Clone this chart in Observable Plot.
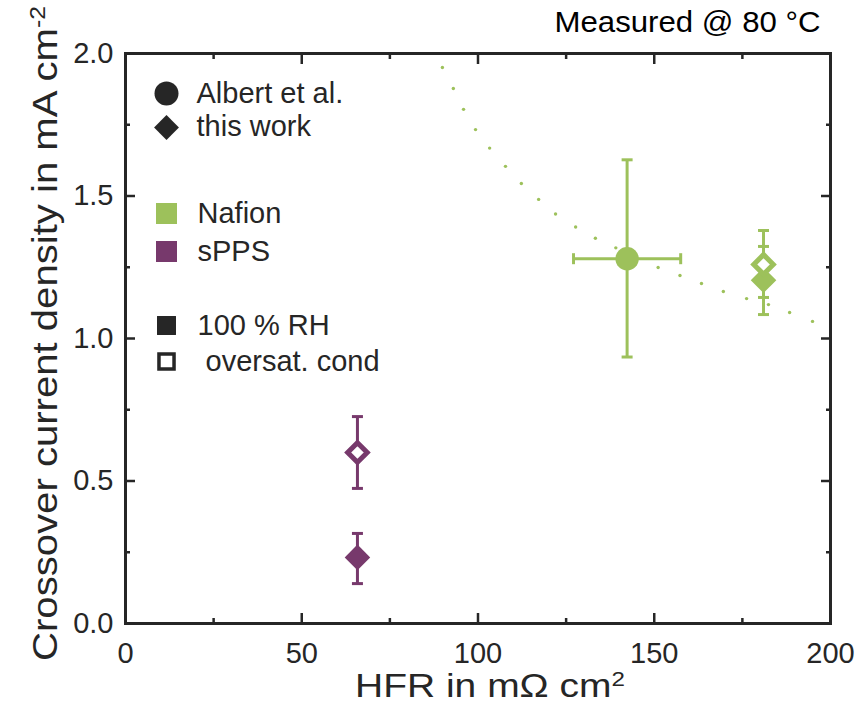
<!DOCTYPE html>
<html>
<head>
<meta charset="utf-8">
<script src="https://cdn.jsdelivr.net/npm/d3@7"></script>
<script src="https://cdn.jsdelivr.net/npm/@observablehq/plot@0.6"></script>
<style>
  html, body { margin: 0; padding: 0; background: #fff; }
  #chart { width: 866px; height: 710px; }
  svg { font-family: "Liberation Sans", Arial, sans-serif; }
</style>
</head>
<body>
<div id="chart"></div>
<script>
// ---- data ----
const membrane  = ["Nafion", "Nafion", "Nafion", "sPPS", "sPPS"];
const source    = ["Albert et al.", "this work", "this work", "this work", "this work"];
const condition = ["100 % RH", "oversat. cond", "100 % RH", "oversat. cond", "100 % RH"];
const hfr       = [142.3, 181, 181, 65.8, 65.8];          // mΩ cm²
const hfrLo     = [127.1, 181, 181, 65.8, 65.8];
const hfrHi     = [157.5, 181, 181, 65.8, 65.8];
const crossover = [1.28, 1.26, 1.204, 0.60, 0.232];        // mA cm⁻²
const crossLo   = [0.935, 1.144, 1.084, 0.474, 0.14];
const crossHi   = [1.627, 1.379, 1.323, 0.726, 0.316];

// dotted guide curve
const guideX = [89.9, 93.0, 95.9, 99.3, 103.3, 107.8, 112.3, 117.2, 122.0, 127.7, 133.3, 139.1, 145.0, 151.1, 157.3, 163.4, 169.6, 176.2, 182.4, 188.4, 194.9];
const guideY = [1.951, 1.877, 1.804, 1.733, 1.668, 1.604, 1.544, 1.488, 1.437, 1.391, 1.352, 1.318, 1.284, 1.249, 1.221, 1.193, 1.165, 1.14, 1.119, 1.091, 1.06];

const xTicks = [0, 50, 100, 150, 200];
const xMinor = [25, 75, 125, 175];
const yTicks = [0, 0.5, 1.0, 1.5, 2.0];
const yMinor = [0.25, 0.75, 1.25, 1.75];

// ---- build tables ----
const points = membrane.map((m, i) => ({
  membrane: m, source: source[i], condition: condition[i],
  hfr: hfr[i], hfrLo: hfrLo[i], hfrHi: hfrHi[i],
  j: crossover[i], jLo: crossLo[i], jHi: crossHi[i]
}));
const guide = guideX.map((x, i) => ({x, y: guideY[i]}));

const colors = {Nafion: "#9dc15b", sPPS: "#77396c"};
const ink = "#262626";
const FS = 29;

const col = d => colors[d.membrane];
const filled = points.filter(d => d.condition === "100 % RH");
const open = points.filter(d => d.condition !== "100 % RH");
const withXerr = points.filter(d => d.hfrHi > d.hfrLo);

// error-bar cap symbols
const CAP = 5.5;
const capH = {draw(ctx) { ctx.moveTo(-CAP, 0); ctx.lineTo(CAP, 0); }};
const capV = {draw(ctx) { ctx.moveTo(0, -CAP); ctx.lineTo(0, CAP); }};

const yCaps = points.flatMap(d => [{...d, cy: d.jLo}, {...d, cy: d.jHi}]);
const xCaps = withXerr.flatMap(d => [{...d, cx: d.hfrLo}, {...d, cx: d.hfrHi}]);

const legendText = (txt, dx, dy) => Plot.text([txt], {
  frameAnchor: "top-left", dx, dy, text: d => d, textAnchor: "start",
  lineAnchor: "middle", fontSize: FS, fill: ink
});

const chart = Plot.plot({
  width: 866,
  height: 710,
  marginLeft: 125,
  marginRight: 36,
  marginTop: 53,
  marginBottom: 87,
  style: {fontFamily: '"Liberation Sans", Arial, sans-serif', background: "#fff"},
  x: {type: "linear", domain: [0, 200]},
  y: {type: "linear", domain: [0, 2]},
  marks: [
    // guide dots
    Plot.dot(guide, {x: "x", y: "y", r: 1.7, fill: colors.Nafion, stroke: "none"}),
    // error bars
    Plot.ruleX(points, {x: "hfr", y1: "jLo", y2: "jHi", stroke: col, strokeWidth: 3}),
    Plot.dot(yCaps, {x: "hfr", y: "cy", symbol: capH, stroke: col, strokeWidth: 3, fill: "none"}),
    Plot.ruleY(withXerr, {y: "j", x1: "hfrLo", x2: "hfrHi", stroke: col, strokeWidth: 3}),
    Plot.dot(xCaps, {x: "cx", y: "j", symbol: capV, stroke: col, strokeWidth: 3, fill: "none"}),
    // filled markers
    Plot.dot(filled.filter(d => d.source === "Albert et al."), {x: "hfr", y: "j", r: 11.7, fill: col, stroke: "none"}),
    Plot.dot(filled.filter(d => d.source === "this work"), {x: "hfr", y: "j", symbol: "diamond2", r: 11.5, fill: col, stroke: "none"}),
    // open markers
    Plot.dot(open, {x: "hfr", y: "j", symbol: "diamond2", r: 8.8, fill: "white", stroke: col, strokeWidth: 5}),

    // frame and axes
    Plot.frame({stroke: ink, strokeWidth: 3}),
    Plot.axisX({ticks: xTicks, tickSize: -10, text: null, stroke: ink, strokeWidth: 2.5, label: null}),
    Plot.axisX({ticks: xMinor, tickSize: -5, text: null, stroke: ink, strokeWidth: 2.5, label: null}),
    Plot.axisX({anchor: "top", ticks: xTicks, tickSize: -10, text: null, stroke: ink, strokeWidth: 2.5, label: null}),
    Plot.axisX({anchor: "top", ticks: xMinor, tickSize: -5, text: null, stroke: ink, strokeWidth: 2.5, label: null}),
    Plot.axisY({ticks: yTicks, tickSize: -10, text: null, stroke: ink, strokeWidth: 2.5, label: null}),
    Plot.axisY({ticks: yMinor, tickSize: -5, text: null, stroke: ink, strokeWidth: 2.5, label: null}),
    Plot.axisY({anchor: "right", ticks: yTicks, tickSize: -10, text: null, stroke: ink, strokeWidth: 2.5, label: null}),
    Plot.axisY({anchor: "right", ticks: yMinor, tickSize: -5, text: null, stroke: ink, strokeWidth: 2.5, label: null}),
    Plot.axisX({ticks: xTicks, tickSize: 0, tickPadding: 19, fontSize: FS, fill: ink, label: null}),
    Plot.axisY({ticks: yTicks, tickSize: 0, tickPadding: 12, fontSize: FS, fill: ink, label: null,
      tickFormat: d3.format(".1f")}),

    // axis titles
    Plot.text(["HFR in mΩ cm"], {frameAnchor: "bottom", dx: 12, dy: 63, text: d => d, textAnchor: "middle",
      fontSize: 33, fill: ink, lineAnchor: "middle", className: "xtitle"}),
    Plot.text(["Crossover current density in mA cm"], {frameAnchor: "left", dx: -80, dy: -5, rotate: -90, text: d => d,
      textAnchor: "middle", fontSize: 35, fill: ink, lineAnchor: "middle", className: "ytitle"}),
    Plot.text(["Measured @ 80 °C"], {frameAnchor: "top-right", dx: -10, dy: -31, text: d => d,
      textAnchor: "end", lineAnchor: "middle", fontSize: 29, fill: "#000", className: "toptext"}),

    // legend
    Plot.dot([0], {frameAnchor: "top-left", dx: 41, dy: 40, r: 12, fill: ink}),
    legendText("Albert et al.", 71, 40),
    Plot.dot([0], {frameAnchor: "top-left", dx: 41, dy: 74, r: 11.2, symbol: "diamond2", fill: ink}),
    legendText("this work", 71, 73),
    Plot.dot([0], {frameAnchor: "top-left", dx: 41, dy: 160, r: 11.85, symbol: "square", fill: colors.Nafion}),
    legendText("Nafion", 72, 160),
    Plot.dot([0], {frameAnchor: "top-left", dx: 41, dy: 198, r: 11.85, symbol: "square", fill: colors.sPPS}),
    legendText("sPPS", 72, 198),
    Plot.dot([0], {frameAnchor: "top-left", dx: 41, dy: 272, r: 10.7, symbol: "square", fill: ink}),
    legendText("100 % RH", 72, 272),
    Plot.dot([0], {frameAnchor: "top-left", dx: 41, dy: 308, r: 8.5, symbol: "square", fill: "white", stroke: ink, strokeWidth: 3.5}),
    legendText("oversat. cond", 80, 308)
  ]
});

// superscripts in axis titles, and stretch the titles to the reference's length
const titleFix = (sel, s, len) => {
  const t = d3.select(chart).select(sel + " text");
  if (!t.empty()) {
    if (s) t.append("tspan").attr("baseline-shift", "super").attr("font-size", "0.62em").text(s);
    t.attr("textLength", len).attr("lengthAdjust", "spacingAndGlyphs");
  }
};
titleFix(".xtitle", "2", 270);
titleFix(".ytitle", "-2", 655);
titleFix(".toptext", null, 266);

document.getElementById("chart").appendChild(chart);
</script>
</body>
</html>
